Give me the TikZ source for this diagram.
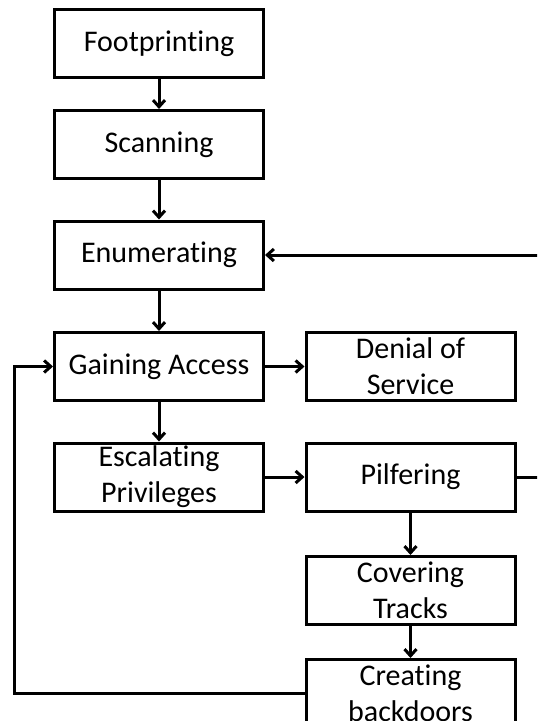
\documentclass[tikz,border=0pt]{standalone}
\usepackage{fontspec}
\setmainfont{Carlito}[Ligatures=NoCommon]
\usepackage{tikz}
\usetikzlibrary{arrows.meta}
\newcommand{\colL}{159}
\newcommand{\colR}{410.5}
\tikzset{
  phase/.style = {draw=black, line width=2.25pt, minimum width=156.75pt,
                  minimum height=51pt, inner sep=0pt, align=center,
                  font=\fontsize{22.5pt}{27pt}\selectfont},
  flow/.style  = {-{Straight Barb[length=5pt,width=9pt]}, line width=2.25pt},
  link/.style  = {line width=2.25pt}
}

\begin{document}
\begin{tikzpicture}[x={(0.75pt,0pt)}, y={(0pt,-0.75pt)}]
    % page frame (pixels of the reference)
    \clip (0,0) rectangle (537,721);

    % main column
    \node[phase] (foot) at (\colL,43.5)  {Footprinting};
    \node[phase] (scan) at (\colL,144.5) {Scanning};
    \node[phase] (enum) at (\colL,255)   {Enumerating};
    \node[phase] (gain) at (\colL,366.5) {Gaining Access};
    \node[phase] (esc)  at (\colL,477)   {Escalating\\Privileges};

    % side column
    \node[phase] (dos)  at (\colR,366.5) {Denial of\\Service};
    \node[phase] (pilf) at (\colR,477)   {Pilfering};
    \node[phase] (cover) at (\colR,590.5) {Covering\\Tracks};
    \node[phase] (back) at (\colR,693.5) {Creating\\backdoors};

    % turning points of the loops
    \coordinate (loopL) at (14,0);
    \coordinate (loopR) at (550,0);

    % straight steps
    \draw[flow] (foot) -- (scan);
    \draw[flow] (scan) -- (enum);
    \draw[flow] (enum) -- (gain);
    \draw[flow] (gain) -- (esc);
    \draw[flow] (gain) -- (dos);
    \draw[flow] (esc) -- (pilf);
    \draw[flow] (pilf) -- (cover);
    \draw[flow] (cover) -- (back);

    % loops back
    \draw[flow] (back.west) -- (back.west -| loopL) |- (gain.west);
    \draw[flow] (pilf.east) -- (pilf.east -| loopR) |- (enum.east);
\end{tikzpicture}
\end{document}
